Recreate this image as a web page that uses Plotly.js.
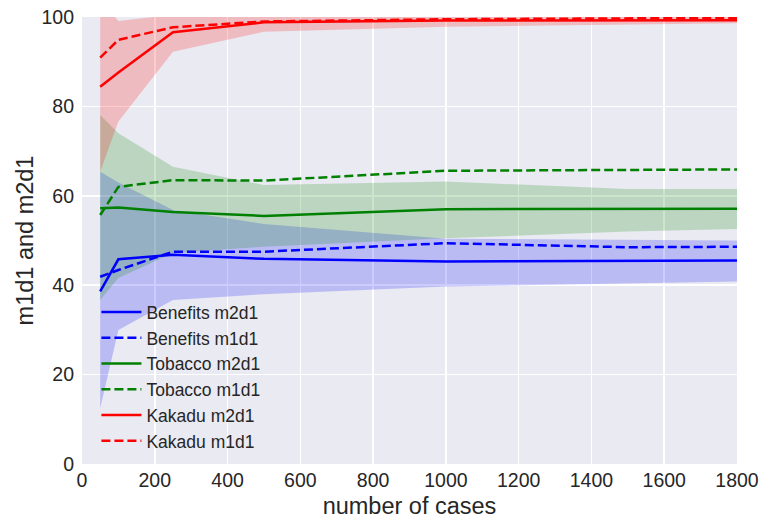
<!DOCTYPE html>
<html>
<head>
<meta charset="utf-8">
<script src="https://cdn.plot.ly/plotly-3.0.1.min.js"></script>
<style>html,body{margin:0;padding:0;background:#fff;}#chart{width:763px;height:524px;}</style>
</head>
<body>
<div id="chart"></div>
<script>
// number of cases
const cases = [50, 100, 250, 500, 1000, 1500, 1800];

// Benefits
const benefitsM2d1 = [38.6, 45.8, 46.8, 45.9, 45.3, 45.5, 45.5];
const benefitsM1d1 = [41.9, 43.4, 47.5, 47.5, 49.4, 48.5, 48.6];
const benefitsUpper = [65.4, 63.0, 56.8, 53.7, 50.4, 50.2, 50.0];
const benefitsLower = [12.5, 30.0, 36.7, 38.0, 39.7, 40.4, 40.8];

// Tobacco
const tobaccoM2d1 = [57.2, 57.4, 56.4, 55.5, 57.0, 57.1, 57.1];
const tobaccoM1d1 = [55.7, 62.0, 63.5, 63.4, 65.6, 65.7, 65.9];
const tobaccoUpper = [78.1, 74.0, 66.5, 62.4, 63.2, 61.5, 61.5];
const tobaccoLower = [36.7, 41.6, 47.2, 48.6, 50.5, 52.0, 52.6];

// Kakadu
const kakaduM2d1 = [84.4, 87.6, 96.6, 98.8, 99.2, 99.3, 99.3];
const kakaduM1d1 = [90.9, 94.9, 97.7, 99.0, 99.5, 99.7, 99.8];
const kakaduUpper = [104.0, 99.1, 100.5, 101.0, 100.6, 100.4, 100.4];
const kakaduLower = [65.4, 76.6, 92.2, 96.7, 97.8, 98.4, 98.6];

const xTicks = [0, 200, 400, 600, 800, 1000, 1200, 1400, 1600, 1800];
const yTicks = [0, 20, 40, 60, 80, 100];

function band(lower, upper, fill) {
  return [
    {x: cases, y: lower, type: 'scatter', mode: 'lines', line: {width: 0, color: fill}, showlegend: false, hoverinfo: 'skip'},
    {x: cases, y: upper, type: 'scatter', mode: 'lines', line: {width: 0, color: fill}, fill: 'tonexty', fillcolor: fill, showlegend: false, hoverinfo: 'skip'}
  ];
}
function line(y, color, dash, name) {
  return {x: cases, y: y, type: 'scatter', mode: 'lines', name: name,
    line: {color: color, width: 2.5, dash: dash}};
}

const traces = [].concat(
  band(benefitsLower, benefitsUpper, 'rgba(0,0,255,0.2)'),
  band(tobaccoLower, tobaccoUpper, 'rgba(0,128,0,0.2)'),
  band(kakaduLower, kakaduUpper, 'rgba(255,0,0,0.2)'),
  [
    line(benefitsM2d1, '#0000ff', 'solid', 'Benefits m2d1'),
    line(benefitsM1d1, '#0000ff', '9px,4px', 'Benefits m1d1'),
    line(tobaccoM2d1, '#008000', 'solid', 'Tobacco m2d1'),
    line(tobaccoM1d1, '#008000', '9px,4px', 'Tobacco m1d1'),
    line(kakaduM2d1, '#ff0000', 'solid', 'Kakadu m2d1'),
    line(kakaduM1d1, '#ff0000', '9px,4px', 'Kakadu m1d1')
  ]
);

const layout = {
  width: 763, height: 524,
  margin: {l: 82, r: 26, t: 17, b: 60},
  paper_bgcolor: '#ffffff',
  plot_bgcolor: '#EAEAF2',
  font: {family: 'Liberation Sans, Arial, sans-serif', color: '#262626', size: 19.5},
  xaxis: {
    range: [0, 1800], tickvals: xTicks, ticktext: xTicks.map(String),
    showgrid: true, gridcolor: '#ffffff', gridwidth: 1.5, zeroline: false, showline: false,
    ticks: '', tickfont: {size: 19.5}, ticklabelstandoff: 2,
    title: {text: 'number of cases', font: {size: 23.5}, standoff: 8}
  },
  yaxis: {
    range: [0, 100], tickvals: yTicks, ticktext: yTicks.map(String),
    showgrid: true, gridcolor: '#ffffff', gridwidth: 1.5, zeroline: false, showline: false,
    ticks: '', tickfont: {size: 19.5}, ticklabelstandoff: 7,
    title: {text: 'm1d1 and m2d1', font: {size: 23.5}, standoff: 1}
  },
  legend: {
    x: 0.022, y: 0.38, xanchor: 'left', yanchor: 'top',
    bgcolor: 'rgba(0,0,0,0)', borderwidth: 0,
    font: {size: 17.5, color: '#262626'},
    itemwidth: 40, traceorder: 'normal'
  },
  showlegend: true
};

Plotly.newPlot('chart', traces, layout, {displayModeBar: false, staticPlot: true});
</script>
</body>
</html>
